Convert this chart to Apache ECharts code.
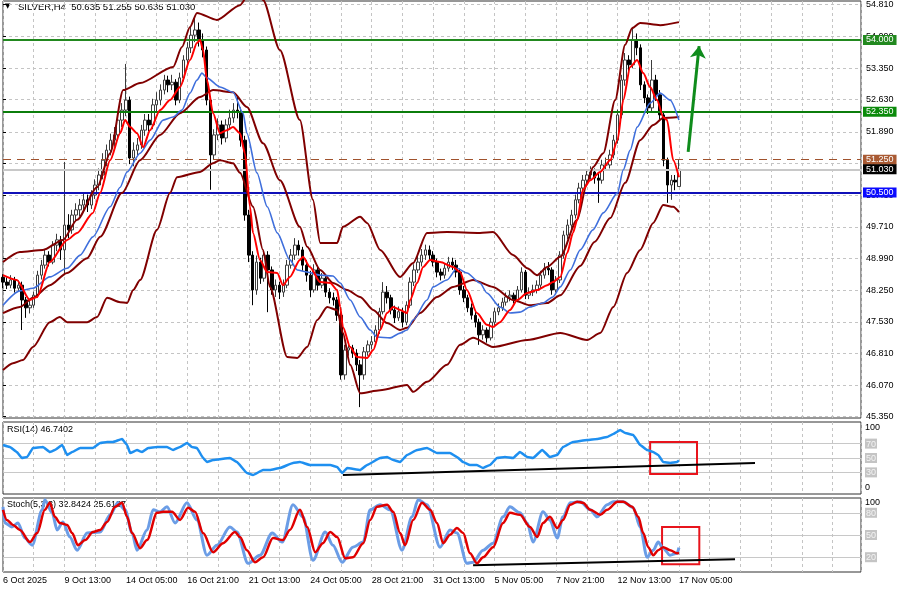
<!DOCTYPE html>
<html><head><meta charset="utf-8">
<script src="https://cdn.jsdelivr.net/npm/echarts@6/dist/echarts.min.js"></script>
<style>html,body{margin:0;padding:0;background:#fff}#c{width:900px;height:594px}</style>
</head><body><div id="c"></div>
<script>
// ---------- data ----------
const xTickLabels = ['6 Oct 2025','9 Oct 13:00','14 Oct 05:00','16 Oct 21:00','21 Oct 13:00','24 Oct 05:00','28 Oct 21:00','31 Oct 13:00','5 Nov 05:00','7 Nov 21:00','12 Nov 13:00','17 Nov 05:00'];
const barsPerLabel = 16;
const barsPerGrid = 8;
const visibleSlots = 223.4;
const priceTicks = [54.81,54.09,53.35,52.63,51.89,51.17,50.43,49.71,48.99,48.25,47.53,46.81,46.07,45.35];
const priceMin = 45.32, priceMax = 54.895;
// [open, close, low, high] per H4 bar
const ohlc = [
[48.55,48.44,48.30,48.62],[48.44,48.37,48.28,48.55],[48.37,48.49,48.30,48.60],[48.49,48.30,48.20,48.56],[48.30,48.37,48.22,48.48],
[48.37,48.03,47.34,48.45],[48.03,47.85,47.62,48.10],[47.85,47.91,47.72,48.05],[47.91,48.14,47.85,48.22],[48.14,48.60,48.08,48.70],
[48.60,48.83,48.50,48.95],[48.83,49.06,48.75,49.18],[49.06,48.90,48.80,49.15],[48.90,49.29,48.85,49.38],[49.29,49.41,49.15,49.55],
[49.41,49.18,48.95,49.50],[49.18,49.75,48.60,51.20],[49.75,49.64,49.45,50.00],[49.64,49.98,49.55,50.10],[49.98,50.10,49.85,50.25],
[50.10,50.21,49.95,50.35],[50.21,50.33,50.08,50.50],[50.33,50.21,50.05,50.45],[50.21,50.44,50.12,50.55],[50.44,50.67,50.35,50.80],
[50.67,50.90,50.55,51.05],[50.90,51.24,50.80,51.40],[51.24,51.47,51.10,51.60],[51.47,51.70,51.35,51.85],[51.70,51.82,51.55,52.00],
[51.82,52.16,51.70,52.30],[52.16,52.39,52.00,52.55],[52.39,52.62,52.25,53.45],[52.62,51.29,51.15,52.70],[51.29,51.47,51.10,51.65],
[51.47,51.59,51.35,51.75],[51.59,51.93,51.50,52.05],[51.93,52.16,51.80,52.30],[52.16,52.05,51.90,52.30],[52.05,52.51,51.95,52.65],
[52.51,52.62,52.35,52.80],[52.62,52.85,52.50,52.98],[52.85,53.08,52.75,53.20],[53.08,52.97,52.80,53.18],[52.97,53.03,52.85,53.20],
[53.03,52.62,52.50,53.10],[52.62,53.13,52.55,53.25],[53.13,53.54,53.05,53.65],[53.54,53.82,53.45,53.95],[53.82,54.11,53.70,54.30],
[54.11,54.23,53.95,54.50],[54.23,54.00,53.85,54.40],[54.00,53.77,53.60,54.15],[53.77,52.62,52.50,53.85],[52.62,51.36,50.56,52.70],
[51.36,51.82,51.25,51.95],[51.82,52.05,51.70,52.20],[52.05,51.75,51.60,52.15],[51.75,52.05,51.65,52.18],[52.05,52.21,51.95,52.40],
[52.21,52.39,52.10,52.55],[52.39,52.35,52.20,52.70],[52.35,51.70,51.55,52.45],[51.70,49.98,49.85,51.80],[49.98,49.06,48.90,50.10],
[49.06,48.26,47.91,49.15],[48.26,48.90,48.15,49.05],[48.90,48.53,48.40,49.00],[48.53,49.06,48.45,49.15],[49.06,48.72,47.75,49.15],
[48.72,48.26,48.15,48.80],[48.26,48.37,48.10,48.50],[48.37,48.21,48.05,48.45],[48.21,48.37,48.10,48.50],[48.37,48.83,48.30,48.95],
[48.83,49.06,48.75,49.20],[49.06,49.29,48.95,49.45],[49.29,49.18,49.05,49.40],[49.18,48.83,48.70,49.25],[48.83,48.60,48.45,48.95],
[48.60,48.26,48.10,48.70],[48.26,48.72,48.20,48.85],[48.72,48.37,48.25,48.80],[48.37,48.53,48.30,48.65],[48.53,48.21,48.10,48.60],
[48.21,48.08,47.95,48.30],[48.08,48.03,47.90,48.20],[48.03,47.68,47.55,48.10],[47.68,46.31,46.20,47.75],[46.31,46.88,46.20,47.00],
[46.88,46.93,46.75,47.05],[46.93,46.81,46.70,47.00],[46.81,46.54,46.40,46.90],[46.54,46.31,45.57,46.65],[46.31,46.84,46.20,46.95],
[46.84,47.00,46.75,47.10],[47.00,47.07,46.90,47.20],[47.07,47.34,46.98,47.45],[47.34,47.76,47.25,47.85],[47.76,48.21,47.70,48.44],
[48.21,48.08,47.95,48.35],[48.08,47.80,47.70,48.15],[47.80,47.62,47.50,47.90],[47.62,47.76,47.55,47.88],[47.76,47.52,47.40,47.85],
[47.52,47.91,47.45,48.00],[47.91,48.44,47.85,48.55],[48.44,48.72,48.35,48.85],[48.72,48.90,48.65,49.05],[48.90,49.06,48.80,49.20],
[49.06,49.18,48.95,49.30],[49.18,49.06,48.95,49.28],[49.06,48.90,48.80,49.15],[48.90,48.67,48.55,48.98],[48.67,48.60,48.48,48.75],
[48.60,48.76,48.52,48.88],[48.76,48.90,48.68,49.02],[48.90,48.83,48.72,49.00],[48.83,48.67,48.55,48.95],[48.67,48.26,48.15,48.75],
[48.26,48.08,47.98,48.35],[48.08,47.85,47.75,48.15],[47.85,47.68,47.58,47.95],[47.68,47.52,47.40,47.78],[47.52,47.23,47.00,47.60],
[47.23,47.34,47.12,47.45],[47.34,47.16,47.05,47.40],[47.16,47.52,47.10,47.62],[47.52,47.76,47.45,47.85],[47.76,47.85,47.68,47.95],
[47.85,47.98,47.78,48.08],[47.98,48.10,47.90,48.20],[48.10,48.14,48.00,48.25],[48.14,48.03,47.95,48.20],[48.03,48.26,47.98,48.35],
[48.26,48.67,48.20,48.78],[48.67,48.14,48.05,48.72],[48.14,48.21,48.05,48.32],[48.21,48.26,48.12,48.38],[48.26,48.37,48.18,48.48],
[48.37,48.60,48.30,48.70],[48.60,48.76,48.52,48.88],[48.76,48.72,48.60,48.90],[48.72,48.26,48.15,48.78],[48.26,48.49,48.20,48.58],
[48.49,49.06,48.42,49.15],[49.06,49.52,48.98,49.62],[49.52,49.75,49.42,49.88],[49.75,49.98,49.65,50.10],[49.98,50.33,49.90,50.45],
[50.33,50.60,50.25,50.72],[50.60,50.78,50.50,50.90],[50.78,50.90,50.68,51.02],[50.90,50.97,50.80,51.10],[50.97,50.83,50.70,51.05],
[50.83,50.78,50.26,50.95],[50.78,51.13,50.70,51.25],[51.13,51.13,51.00,51.30],[51.13,51.36,51.05,51.48],[51.36,51.70,51.28,51.82],
[51.70,52.28,51.62,52.40],[52.28,53.08,52.20,53.20],[53.08,53.54,52.95,53.70],[53.54,53.43,53.28,53.65],[53.43,54.00,53.35,54.30],
[54.00,53.82,53.65,54.15],[53.82,52.97,52.85,53.90],[52.97,52.67,52.55,53.05],[52.67,52.44,52.30,52.75],[52.44,53.08,52.35,53.54],
[53.08,52.74,52.60,53.20],[52.74,52.28,52.15,52.85],[52.28,51.24,51.10,52.35],[51.24,50.67,50.26,51.30],[50.67,50.78,50.33,50.90],
[50.78,50.74,50.55,50.90],[50.635,51.03,50.635,51.255]
];
// indicator lines: [bar index, value]
const bbUpper = [[0,48.90],[4.4,49.13],[10.4,49.18],[15.6,49.41],[19.3,49.87],[24.5,50.62],[27.9,51.40],[31.3,52.85],[35.7,53.01],[44.3,53.38],[46.6,53.84],[48.7,54.30],[50.5,54.62],[55.7,54.46],[61.7,54.80],[64.3,55.10],[65.9,55.15],[67.7,54.92],[72.1,53.77],[77.3,52.16],[80.7,50.33],[82.6,49.34],[87.0,49.34],[88.5,49.71],[93.0,49.94],[94.8,49.80],[98.2,49.18],[103.4,48.56],[106.8,48.88],[110.4,49.57],[115.6,49.59],[124.2,49.57],[127.6,49.59],[132.8,49.06],[136.5,48.76],[139.1,48.60],[141.7,48.79],[145.1,49.02],[149.5,49.87],[152.1,50.72],[153.6,51.08],[156.3,51.40],[159.4,52.62],[162.0,53.89],[163.8,54.27],[165.9,54.39],[171.1,54.34],[176,54.41]];
const bbMiddle = [[0,47.73],[4.4,47.87],[7.8,48.08],[12.2,48.37],[16.7,48.65],[21.9,48.99],[25.3,49.48],[31.0,50.49],[35.7,51.24],[40.9,51.82],[46.1,52.32],[51.3,52.69],[54.7,52.85],[59.9,52.80],[63.5,52.46],[67.7,51.63],[72.1,50.78],[77.3,49.71],[79.2,49.25],[82.6,48.72],[85.9,48.42],[89.6,48.26],[93.0,48.10],[96.4,47.80],[100.0,47.50],[103.4,47.34],[105.2,47.39],[108.6,47.73],[113.0,48.10],[117.2,48.33],[122.4,48.49],[127.6,48.33],[132.8,48.03],[137.2,47.91],[141.7,47.96],[145.1,48.14],[150.3,48.81],[154.0,49.36],[158.1,49.91],[162.0,50.72],[165.9,51.70],[169.3,52.05],[171.9,52.21],[176,52.23]];
const bbLower = [[0,46.42],[2.6,46.58],[5.2,46.65],[7.8,46.95],[12.2,47.52],[14.8,47.64],[16.7,47.52],[21.9,47.52],[24.5,47.64],[27.1,48.08],[30.5,47.98],[32.3,47.96],[33.9,48.26],[35.7,48.49],[40.1,49.64],[43.5,50.49],[45.3,50.85],[51.3,50.97],[54.7,51.17],[56.5,51.24],[59.9,51.17],[61.7,50.95],[65.1,50.17],[67.7,49.18],[69.5,48.33],[74.0,46.72],[76.6,46.70],[79.2,46.95],[81.8,47.57],[84.4,47.87],[87.0,47.80],[88.5,47.27],[90.4,46.54],[93.0,45.89],[98.2,45.96],[105.2,46.08],[106.8,45.92],[110.4,46.15],[115.6,46.54],[119.0,47.00],[122.4,47.16],[127.6,46.95],[136.5,47.11],[145.1,47.27],[152.1,47.11],[155.5,47.27],[158.9,47.87],[162.5,48.65],[165.9,49.18],[169.3,49.80],[171.9,50.21],[174.5,50.17],[176,50.05]];
const maFast = [[0,48.60],[3.6,48.49],[7.0,48.03],[8.9,48.10],[12.2,48.90],[16.7,49.41],[19.3,49.57],[23.4,50.03],[25.3,50.49],[27.9,51.24],[30.5,51.86],[31.8,52.16],[33.1,52.00],[34.9,51.86],[36.5,51.54],[38.3,51.93],[40.9,52.39],[43.5,52.62],[46.1,52.92],[48.7,53.54],[50.5,53.93],[51.3,54.00],[52.1,53.77],[53.1,53.08],[54.7,52.32],[56.5,51.86],[58.3,51.93],[59.9,52.00],[61.7,51.86],[63.0,51.40],[64.3,50.17],[65.1,49.57],[66.9,48.95],[68.8,48.67],[71.4,48.65],[72.9,48.37],[74.7,48.56],[77.3,48.95],[78.1,49.02],[79.9,48.79],[82.6,48.44],[85.2,48.42],[87.0,48.26],[87.8,47.87],[88.5,47.41],[90.4,46.95],[92.2,46.72],[94.8,46.70],[96.4,46.88],[98.2,47.34],[100.0,47.73],[101.6,47.87],[103.4,47.80],[105.2,47.73],[106.0,48.03],[107.8,48.42],[109.4,48.79],[111.2,48.95],[113.8,48.90],[117.2,48.79],[119.0,48.67],[120.8,48.26],[123.4,47.73],[126.0,47.46],[127.6,47.41],[129.4,47.52],[132.0,47.80],[133.9,48.03],[136.5,48.19],[139.1,48.26],[141.7,48.37],[143.2,48.44],[145.1,48.56],[146.9,49.11],[148.4,49.57],[149.5,49.87],[151.0,50.56],[152.9,50.78],[155.5,50.97],[158.1,51.24],[160.0,51.70],[161.5,52.62],[163.3,53.38],[165.1,53.54],[166.7,53.24],[168.5,52.92],[170.3,52.62],[171.9,52.23],[172.9,52.16],[174.5,51.24],[176,50.85]];
const maSlow = [[0,47.91],[4.4,48.24],[7.8,48.30],[12.2,48.56],[16.7,48.76],[20.1,49.06],[23.4,49.48],[27.9,50.17],[30.5,50.62],[32.3,50.97],[35.7,51.40],[38.3,51.70],[41.7,52.16],[44.3,52.23],[46.6,52.39],[48.7,52.78],[50.5,53.08],[51.8,53.24],[53.1,53.13],[56.5,52.92],[59.9,52.80],[62.5,52.32],[63.5,51.86],[66.1,50.95],[68.8,50.17],[71.4,49.57],[74.7,48.95],[76.6,48.72],[79.2,48.67],[82.6,48.60],[85.9,48.58],[87.8,48.42],[90.4,48.03],[93.0,47.64],[95.6,47.34],[97.4,47.18],[100.8,47.16],[103.4,47.27],[105.2,47.34],[106.8,47.57],[110.4,48.03],[112.0,48.33],[115.6,48.49],[118.2,48.76],[120.8,48.65],[124.2,48.42],[126.0,48.19],[129.4,47.87],[132.0,47.73],[134.6,47.75],[137.2,47.87],[140.6,47.96],[143.2,48.10],[145.1,48.33],[147.7,48.72],[150.3,49.18],[153.6,49.64],[156.3,50.03],[160.0,50.49],[161.5,51.02],[163.3,51.47],[165.1,52.00],[168.5,52.55],[171.1,52.78],[173.7,52.62],[176,52.16]];
const rsi = [[0,68.1],[1.8,65.3],[3.6,58.3],[4.9,50],[6.3,51.4],[7.8,63.9],[10.4,65.3],[12.2,58.3],[13.5,61.1],[15.4,68.1],[16.7,54.2],[18.0,58.3],[20.1,63.9],[23.4,63.9],[25.3,70.8],[27.1,72.2],[28.6,72.2],[31.0,76.4],[32.3,68.1],[33.1,56.9],[34.9,61.1],[36.2,58.3],[37.8,63.9],[40.1,65.3],[42.7,65.3],[44.3,61.1],[46.1,65.3],[47.9,70.8],[49.2,65.3],[50.5,63.9],[52.1,50],[53.1,44.4],[54.7,47.2],[59.1,50],[60.9,44.4],[63.5,29.2],[65.1,26.4],[67.7,33.3],[69.5,33.3],[72.1,36.1],[75.5,43.1],[77.3,44.4],[79.9,40.3],[82.6,40.3],[85.2,40.3],[87.0,37.5],[88.3,29.2],[89.6,36.1],[93.0,33.3],[94.8,40.3],[98.2,50],[100.0,51.4],[101.6,47.2],[103.4,44.4],[105.2,54.2],[107.8,61.1],[110.4,63.9],[113.0,56.9],[116.4,56.9],[118.2,51.4],[119.8,44.4],[121.6,40.3],[123.4,40.3],[125.0,36.1],[126.8,40.3],[128.6,50],[130.7,51.4],[132.8,50],[134.6,58.3],[136.5,51.4],[138.0,50],[140.4,61.1],[142.4,51.4],[144.3,54.2],[145.8,65.3],[148.4,72.2],[152.1,75],[154.7,76.4],[157.3,79.2],[158.9,83.3],[160.7,88.9],[162.0,84.7],[164.1,81.9],[165.9,68.1],[167.7,61.1],[169.3,58.3],[170.6,54.2],[171.9,44.4],[173.7,43.1],[175.5,44.4],[176,46.74]];
const stochMain = [[0,88.1],[0.5,66.3],[2.3,60.8],[3.9,66.3],[5.7,45.8],[7.6,36.3],[10.2,84.0],[10.9,97.7],[12.8,79.9],[14.1,56.8],[15.6,67.7],[17.4,47.2],[19.3,29.5],[21.9,52.7],[25.3,54.0],[27.9,77.2],[29.9,93.6],[31.8,84.0],[33.6,52.7],[34.9,29.5],[37.5,56.8],[39.1,84.0],[40.9,81.3],[42.7,88.1],[44.8,66.3],[47.9,93.6],[50.5,70.4],[53.1,22.6],[55.7,36.3],[59.1,60.8],[60.9,54.0],[63.8,11.7],[66.9,22.6],[70.1,52.7],[72.7,40.4],[75.5,90.9],[78.1,74.5],[80.7,15.8],[83.9,54.0],[85.9,36.3],[88.3,13.1],[91.1,33.6],[93.8,40.4],[95.6,84.0],[98.2,90.9],[100.8,84.0],[103.9,29.5],[106.5,74.5],[108.1,97.7],[110.4,90.9],[113.8,33.6],[116.4,56.8],[118.2,52.7],[120.8,11.7],[122.4,13.1],[125.0,29.5],[127.6,39.0],[130.2,74.5],[132.0,88.1],[134.6,79.9],[136.5,66.3],[138.0,40.4],[140.6,81.3],[142.4,70.4],[144.3,45.8],[145.8,74.5],[147.7,93.6],[150.3,95.0],[152.9,84.0],[154.7,74.5],[157.3,90.9],[158.9,95.0],[161.5,95.0],[164.1,86.8],[165.9,60.8],[167.7,19.9],[169.3,29.5],[170.6,40.4],[171.9,32.2],[173.7,22.6],[175.5,25.4],[176,32.84]];
const stochSignal = [[0,84.0],[1.0,70.4],[2.6,63.6],[4.4,56.8],[7.0,40.4],[8.9,52.7],[10.9,84.0],[12.2,93.6],[13.5,74.5],[14.8,66.3],[16.7,63.6],[18.0,52.7],[19.5,36.3],[21.4,43.1],[23.4,54.0],[25.3,56.8],[27.1,67.7],[29.2,88.1],[31.0,93.6],[32.3,74.5],[33.6,52.7],[35.7,32.2],[37.5,43.1],[40.1,79.9],[41.7,81.3],[44.0,81.3],[46.1,70.4],[48.2,86.8],[50.0,81.3],[52.1,52.7],[54.7,26.7],[57.3,39.0],[60.4,54.0],[61.7,47.2],[63.5,29.5],[65.6,13.1],[67.7,19.9],[70.3,45.8],[72.9,43.1],[74.7,56.8],[77.3,84.0],[79.2,60.8],[81.3,26.7],[83.3,39.0],[85.2,54.0],[87.0,47.2],[89.1,18.6],[91.1,19.9],[93.8,39.0],[95.6,70.4],[97.4,88.1],[100.0,90.9],[101.6,81.3],[103.4,52.7],[104.7,36.3],[106.8,70.4],[109.1,93.6],[111.2,84.0],[113.0,66.3],[114.6,39.0],[116.4,50.4],[118.2,59.5],[119.8,52.7],[121.6,25.4],[123.4,11.7],[125.0,19.9],[127.6,33.6],[130.2,66.3],[132.0,79.9],[134.6,77.2],[137.2,60.8],[139.1,47.2],[140.6,66.3],[142.4,74.5],[144.3,59.5],[145.8,70.4],[147.7,90.9],[149.5,95.0],[151.0,93.6],[152.9,84.0],[155.5,77.2],[157.3,84.0],[160.0,95.0],[161.5,95.0],[163.8,88.1],[165.4,74.5],[166.7,52.7],[168.0,33.6],[169.3,22.6],[170.6,29.5],[171.9,33.6],[173.7,29.5],[175.5,25.4],[176,25.62]];
const priceLevels = [54.000, 52.350, 51.250, 51.030, 50.500];
const rsiLevels = [30, 50, 70];
const rsiLabels = [0, 30, 50, 70, 100];
const stochLevels = [20, 50, 80];
const stochLabels = [0, 20, 50, 80, 100];
const rsiTrend = [[88.5,26.4],[195.8,43.1]];
const stochTrend = [[122.4,9.0],[190.6,17.2]];
const rsiBox = [[168.5,72.2],[180.7,27.8]];
const stochBox = [[171.6,60.8],[181.3,10.4]];
const arrowPts = [[178.4,51.43],[181.25,53.86]];
const headerText = 'SILVER,H4  50.635 51.255 50.635 51.030';
const rsiText = 'RSI(14) 46.7402';
const stochText = 'Stoch(5,3,3) 32.8424 25.6187';

// ---------- styles ----------
const FONT = 'Liberation Sans';
const levelStyles = [
  {color:'#22891f', type:'solid', width:2, bg:'#22891f', fg:'#ffffff'},
  {color:'#0b7d0b', type:'solid', width:2, bg:'#0b8a0b', fg:'#ffffff'},
  {color:'#a0522d', type:[8,6], width:1, bg:'#a95a33', fg:'#ffffff'},
  {color:'#c8c8c8', type:'solid', width:2, bg:'#000000', fg:'#ffffff'},
  {color:'#1010b8', type:'solid', width:2, bg:'#0a0aff', fg:'#ffffff'}
];
const dash = {type:[3,3], color:'#c4c4c4', width:1};

function xAxisFor(gi, showLabels){
  return {
    type:'value', gridIndex:gi, min:0, max:visibleSlots, interval:barsPerGrid,
    axisLine:{show:false}, axisTick:{show:false},
    splitLine:{show:true, lineStyle:dash},
    axisLabel:{show:showLabels, align:'left', margin:4, fontFamily:FONT, fontSize:9, color:'#000',
      formatter:(v)=>{ const k=v/barsPerLabel; return (Number.isInteger(k) && k < xTickLabels.length) ? xTickLabels[k] : ''; }}
  };
}
function subAxis(gi, levels, labels, topPad, botPad){
  return {
    type:'value', gridIndex:gi, min:0, max:100, position:'right',
    axisLine:{show:false},
    axisTick:{show:false, customValues:levels},
    splitLine:{show:true, lineStyle:{color:'#c8c8c8', width:1, type:'solid'}},
    axisLabel:{customValues:labels, margin:4, fontFamily:FONT, fontSize:9, color:'#000',
      formatter:(v)=> v===100 ? '{t|100}' : (v===0 ? '{b|0}' : '{l|'+v+'}'),
      rich:{
        t:{padding:[topPad,0,0,0], fontFamily:FONT, fontSize:9, color:'#000'},
        b:{padding:[0,0,botPad,0], fontFamily:FONT, fontSize:9, color:'#000'},
        l:{backgroundColor:'#c4c4c4', color:'#f4f4f4', padding:[1,1,0,1], fontFamily:FONT, fontSize:9}
      }}
  };
}

const candleData = ohlc.map((d,i)=>[i, d[0], d[1], d[2], d[3]]);
const lineBase = (data, color, width, xi, yi, z) => ({
  type:'line', data, xAxisIndex:xi, yAxisIndex:yi, showSymbol:false, smooth:0.25, smoothMonotone:'x',
  lineStyle:{color, width}, itemStyle:{color}, z, silent:true, animation:false
});

const option = {
  animation:false,
  backgroundColor:'#ffffff',
  grid:[
    {left:3, right:39, top:1, height:417, show:true, borderColor:'#303030', borderWidth:1},
    {left:3, right:39, top:422, height:72, show:true, borderColor:'#303030', borderWidth:1},
    {left:3, right:39, top:498, height:74, show:true, borderColor:'#303030', borderWidth:1}
  ],
  xAxis:[xAxisFor(0,false), xAxisFor(1,false), xAxisFor(2,true)],
  yAxis:[
    {type:'value', gridIndex:0, min:priceMin, max:priceMax, position:'right',
     axisLine:{show:false},
     axisTick:{show:true, customValues:priceTicks, length:3, lineStyle:{color:'#000'}},
     splitLine:{show:true, lineStyle:dash},
     axisLabel:{customValues:priceTicks, margin:5, fontFamily:FONT, fontSize:9, color:'#000', formatter:(v)=>v.toFixed(3)}},
    subAxis(1, rsiLevels, rsiLabels, 12, 12),
    subAxis(2, stochLevels, stochLabels, 10, 11)
  ],
  graphic:[
    {type:'text', left:5, top:3, z:0, style:{text:'▼', fontSize:7, fill:'#000', fontFamily:'DejaVu Sans'}},
    {type:'text', left:18, top:2, z:0, style:{text:headerText, fontSize:9.5, fill:'#000', fontFamily:FONT}},
    {type:'text', left:7, top:425, z:0, style:{text:rsiText, fontSize:9, fill:'#000', fontFamily:FONT}},
    {type:'text', left:7, top:500, z:0, style:{text:stochText, fontSize:9, fill:'#000', fontFamily:FONT}}
  ],
  series:[
    {type:'candlestick', name:'SILVER', xAxisIndex:0, yAxisIndex:0, data:candleData,
     encode:{x:0, y:[1,2,3,4]}, barWidth:3, z:3, silent:true,
     itemStyle:{color:'#ffffff', color0:'#000000', borderColor:'#3c3c3c', borderColor0:'#000000', borderWidth:1},
     markLine:{silent:true, symbol:'none', animation:false, z:4,
       data: priceLevels.map((v,k)=>({yAxis:v,
         lineStyle:{color:levelStyles[k].color, type:levelStyles[k].type, width:levelStyles[k].width},
         label:{show:true, position:'end', distance:2, formatter:v.toFixed(3), backgroundColor:levelStyles[k].bg,
           color:levelStyles[k].fg, padding:[1,3,0,3], fontFamily:FONT, fontSize:9}}))}
    },
    lineBase(bbUpper, '#800000', 2, 0, 0, 5),
    lineBase(bbMiddle, '#800000', 2, 0, 0, 5),
    lineBase(bbLower, '#800000', 2, 0, 0, 5),
    lineBase(maSlow, '#3f6fdc', 1.6, 0, 0, 6),
    lineBase(maFast, '#ff0000', 2, 0, 0, 7),
    {type:'line', xAxisIndex:0, yAxisIndex:0, data:[], z:8,
     markLine:{silent:true, animation:false, symbol:['none','arrow'], symbolSize:12,
       lineStyle:{color:'#0f8c1c', width:3, type:'solid'}, label:{show:false},
       data:[[{coord:arrowPts[0]},{coord:arrowPts[1]}]]}},
    Object.assign(lineBase(rsi, '#1e8ff0', 2.5, 1, 1, 5), {smooth:0.1,
      markArea:{silent:true, itemStyle:{color:'rgba(0,0,0,0)', borderColor:'#e8141c', borderWidth:2},
        data:[[{coord:rsiBox[0]},{coord:rsiBox[1]}]]}}),
    Object.assign(lineBase(rsiTrend, '#000000', 2, 1, 1, 4), {smooth:false}),
    Object.assign(lineBase(stochMain, '#6b9de6', 3, 2, 2, 5), {smooth:0.3,
      markArea:{silent:true, itemStyle:{color:'rgba(0,0,0,0)', borderColor:'#e8141c', borderWidth:2},
        data:[[{coord:stochBox[0]},{coord:stochBox[1]}]]}}),
    Object.assign(lineBase(stochSignal, '#e00000', 2.5, 2, 2, 6), {smooth:0.3}),
    Object.assign(lineBase(stochTrend, '#000000', 2, 2, 2, 4), {smooth:false})
  ]
};
const chart = echarts.init(document.getElementById('c'), null, {renderer:'canvas'});
chart.setOption(option);
</script></body></html>
